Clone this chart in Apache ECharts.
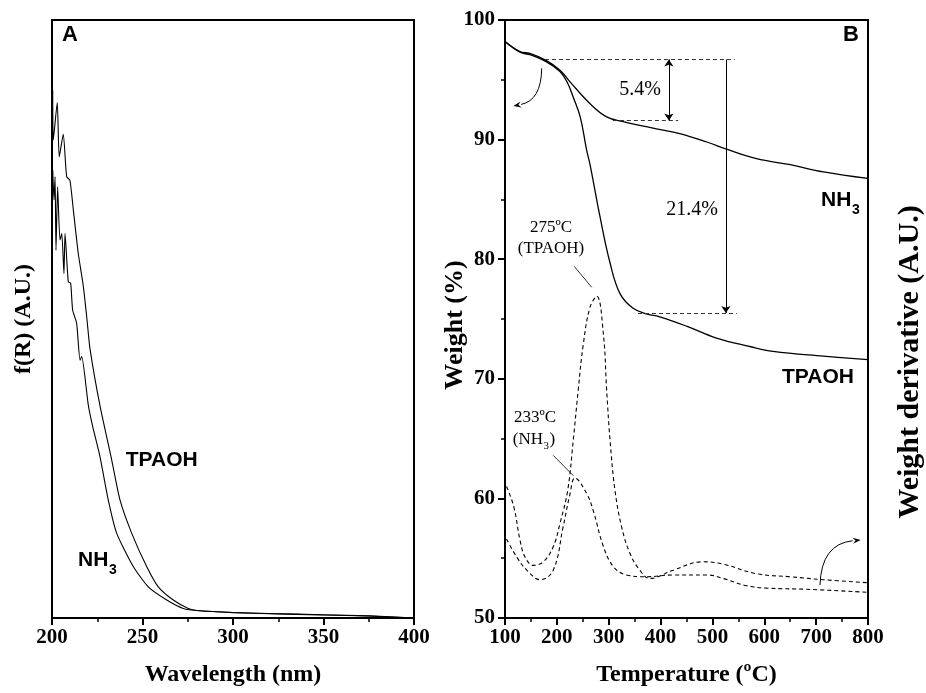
<!DOCTYPE html>
<html>
<head>
<meta charset="utf-8">
<script src="https://cdn.jsdelivr.net/npm/echarts@6/dist/echarts.min.js"></script>
<style>
html,body{margin:0;padding:0;background:#fff;}
#main{width:926px;height:693px;}
</style>
</head>
<body>
<div id="main"></div>
<script>
// ---------- Panel A : UV-vis (Kubelka-Munk) ----------
const uvWlTPAOH = [200.4,200.7,202.9,204.0,206.2,208.1,209.9,211.8,214.5,217.3,219.3,221.0,226.5,233.0,237.6,244.0,252.3,258.7,267.0,275.3,281.8,300,320,350,375,400];
const uvTPAOH   = [88.3,79.9,86.2,77.1,80.9,73.8,73.2,68.2,61.0,55.5,50.0,45.0,35.5,26.4,19.7,14.2,8.6,5.2,3.0,1.6,1.2,0.92,0.75,0.55,0.35,0];
const uvWlNH3   = [200.4,201.1,201.7,202.2,203.1,204.4,205.4,206.6,207.2,209.0,210.3,211.4,213.6,215.5,216.4,220.1,222.5,226.5,231.1,235.7,244.9,253.2,263.4,272.5,281.8,300,320,350,375,400];
const uvNH3     = [74.9,69.9,73.8,61.5,72.1,63.2,64.3,57.6,64.3,56.2,56.0,51.5,49.3,43.1,43.7,35.5,32.0,27.0,19.7,14.2,8.6,5.2,3.0,1.6,1.2,0.9,0.72,0.5,0.33,0];
const wlTicks = [200,250,300,350,400];

// ---------- Panel B : TGA / DTG ----------
const tgaTempNH3 = [100,129,148,180,206,225,264,296,328,392,437,489,527,585,650,714,800];
const tgaNH3     = [98.2,97.35,97.2,96.6,95.8,94.85,93.0,91.9,91.5,90.9,90.5,89.8,89.2,88.4,87.9,87.3,86.75];
const tgaTempTPAOH = [100,129,148,180,206,220,232,245,257.5,264,283,302.5,322,347,375,397,450,508,572,617,714,800];
const tgaTPAOH     = [98.2,97.3,97.1,96.5,95.7,94.8,93.5,91.9,89.1,87.9,83.6,79.7,77.1,75.9,75.4,75.2,74.4,73.4,72.7,72.3,71.9,71.6];
const dtgTempTPAOH = [103,117,129,138.6,154.6,174,193,206,221,231.7,241.3,251,264,277,289.6,296,302.5,312,325,341,360,379.6,392,424.5,482,521,585,650,714,800];
const dtgTPAOH     = [61.0,59.3,56.5,55.1,54.4,54.7,55.96,57.9,60.7,64.9,69.1,72.9,76.0,76.9,73.8,69.1,64.9,60.7,57.6,55.4,54.0,53.3,53.4,54.0,54.7,54.5,53.7,53.45,53.2,52.95];
const dtgTempNH3 = [103,122.6,142,167.5,193,212,225,235,257.5,270,289.6,309,334.6,373,424.5,489,521,566,604.6,682,800];
const dtgNH3     = [56.6,55.1,54.0,53.2,54.0,57.6,60.3,61.7,60.4,59.0,56.0,54.3,53.6,53.45,53.6,53.6,53.3,52.7,52.5,52.4,52.15];
const tempTicks = [100,200,300,400,500,600,700,800];
const weightTicks = [50,60,70,80,90,100];

// annotation reference levels
const lossStart = 96.7, lossNH3End = 91.6, lossTPAOHEnd = 75.5;
const lossNH3Text = '5.4%', lossTPAOHText = '21.4%';
// curved arrows: [start, control, end] in (T, W) data units
const arrowToLeftAxis  = [[170.8, 95.96], [170, 93.3], [116, 92.8]];
const arrowToRightAxis = [[707.4, 52.76], [710, 56.2], [785.9, 56.52]];

const zip = (xs, ys) => xs.map((x, i) => [x, ys[i]]);

const serif = "'Liberation Serif','Times New Roman',serif";
const sans = "'Liberation Sans',Arial,sans-serif";
const black = '#000';

const chart = echarts.init(document.getElementById('main'), null, {renderer: 'canvas'});

const tickLabel = {color: black, fontFamily: serif, fontWeight: 'bold', fontSize: 21};
const nameStyle = {color: black, fontFamily: serif, fontWeight: 'bold', fontSize: 24};

const option = {
  animation: false,
  backgroundColor: '#fff',
  grid: [
    {left: 52, top: 20, width: 362, height: 598, show: true, borderColor: black, borderWidth: 2, backgroundColor: 'transparent'},
    {left: 505, top: 20, width: 363, height: 598, show: true, borderColor: black, borderWidth: 2, backgroundColor: 'transparent'}
  ],
  xAxis: [
    {gridIndex: 0, type: 'value', min: 200, max: 400, interval: 50,
     axisLine: {show: true, lineStyle: {color: black, width: 2}},
     axisTick: {show: true, inside: false, length: 7, lineStyle: {color: black, width: 2}},
     minorTick: {show: true, splitNumber: 2, length: 4, lineStyle: {color: black, width: 1.5}},
     splitLine: {show: false},
     axisLabel: Object.assign({margin: 9, formatter: v => wlTicks.includes(v) ? String(v) : ''}, tickLabel),
     name: 'Wavelength (nm)', nameLocation: 'middle', nameGap: 45, nameTextStyle: nameStyle},
    {gridIndex: 1, type: 'value', min: 100, max: 800, interval: 100,
     axisLine: {show: true, lineStyle: {color: black, width: 2}},
     axisTick: {show: true, inside: false, length: 7, lineStyle: {color: black, width: 2}},
     minorTick: {show: true, splitNumber: 2, length: 4, lineStyle: {color: black, width: 1.5}},
     splitLine: {show: false},
     axisLabel: Object.assign({margin: 9, formatter: v => tempTicks.includes(v) ? String(v) : ''}, tickLabel),
     name: 'Temperature (ºC)', nameLocation: 'middle', nameGap: 45, nameTextStyle: nameStyle}
  ],
  yAxis: [
    {gridIndex: 0, type: 'value', min: 0, max: 100,
     axisLine: {show: true, lineStyle: {color: black, width: 2}},
     axisTick: {show: false}, axisLabel: {show: false}, splitLine: {show: false},
     name: 'f(R) (A.U.)', nameLocation: 'middle', nameGap: 16, nameRotate: 90, nameTextStyle: nameStyle},
    {gridIndex: 1, type: 'value', min: 50, max: 100, interval: 10,
     axisLine: {show: true, lineStyle: {color: black, width: 2}},
     axisTick: {show: true, inside: false, length: 7, lineStyle: {color: black, width: 2}},
     minorTick: {show: true, splitNumber: 2, length: 4, lineStyle: {color: black, width: 1.5}},
     splitLine: {show: false},
     axisLabel: Object.assign({margin: 10, formatter: v => weightTicks.includes(v) ? String(v) : ''}, tickLabel)},
    {gridIndex: 1, type: 'value', min: 50, max: 100, position: 'right',
     axisLine: {show: true, lineStyle: {color: black, width: 2}},
     axisTick: {show: false}, axisLabel: {show: false}, splitLine: {show: false}}
  ],
  series: [
    {name: 'TPAOH UV', type: 'line', xAxisIndex: 0, yAxisIndex: 0, data: zip(uvWlTPAOH, uvTPAOH),
     showSymbol: false, smooth: 0.2, lineStyle: {color: black, width: 1.1}, silent: true},
    {name: 'NH3 UV', type: 'line', xAxisIndex: 0, yAxisIndex: 0, data: zip(uvWlNH3, uvNH3),
     showSymbol: false, smooth: 0.2, lineStyle: {color: black, width: 1.1}, silent: true},
    {name: 'NH3 TGA', type: 'line', xAxisIndex: 1, yAxisIndex: 1, data: zip(tgaTempNH3, tgaNH3),
     showSymbol: false, smooth: 0.4, lineStyle: {color: black, width: 1.3}, silent: true,
     markLine: {
       silent: true, animation: false, symbolSize: 7, label: {show: false},
       lineStyle: {color: '#333', width: 1, type: [4, 3]},
       data: [
         [{coord: [177, lossStart], symbol: 'none'}, {coord: [543, lossStart], symbol: 'none'}],
         [{coord: [308, lossNH3End], symbol: 'none'}, {coord: [434, lossNH3End], symbol: 'none'}],
         [{coord: [356.5, lossTPAOHEnd], symbol: 'none'}, {coord: [547, lossTPAOHEnd], symbol: 'none'}],
         [{coord: [416, lossStart], symbol: 'arrow', lineStyle: {type: 'solid', color: black}},
          {coord: [416, lossNH3End], symbol: 'arrow'}],
         [{coord: [526, lossStart], symbol: 'none', lineStyle: {type: 'solid', color: black}},
          {coord: [526, lossTPAOHEnd], symbol: 'arrow'}],
         [{coord: [233.6, 79.4], symbol: 'none', lineStyle: {type: 'solid', color: black, width: 0.8}},
          {coord: [267.2, 77.65], symbol: 'none'}],
         [{coord: [193, 63.6], symbol: 'none', lineStyle: {type: 'solid', color: black, width: 0.8}},
          {coord: [231.7, 61.9], symbol: 'none'}]
       ]
     }},
    {name: 'TPAOH TGA', type: 'line', xAxisIndex: 1, yAxisIndex: 1, data: zip(tgaTempTPAOH, tgaTPAOH),
     showSymbol: false, smooth: 0.4, lineStyle: {color: black, width: 1.3}, silent: true},
    {name: 'TPAOH DTG', type: 'line', xAxisIndex: 1, yAxisIndex: 2, data: zip(dtgTempTPAOH, dtgTPAOH),
     showSymbol: false, smooth: 0.4, lineStyle: {color: black, width: 1.1, type: [4, 3]}, silent: true},
    {name: 'NH3 DTG', type: 'line', xAxisIndex: 1, yAxisIndex: 2, data: zip(dtgTempNH3, dtgNH3),
     showSymbol: false, smooth: 0.4, lineStyle: {color: black, width: 1.1, type: [4, 3]}, silent: true}
  ],
  graphic: [
    {type: 'text', left: 62, top: 24, style: {text: 'A', font: `bold 22px ${sans}`, fill: black}},
    {type: 'text', left: 843, top: 24, style: {text: 'B', font: `bold 22px ${sans}`, fill: black}},
    {type: 'text', x: 161.7, y: 460, style: {text: 'TPAOH', font: `bold 21px ${sans}`, fill: black, textAlign: 'center', textVerticalAlign: 'middle'}},
    {type: 'text', x: 78, y: 560, style: {text: 'NH', font: `bold 21px ${sans}`, fill: black, textAlign: 'left', textVerticalAlign: 'middle'}},
    {type: 'text', x: 109, y: 570, style: {text: '3', font: `bold 14px ${sans}`, fill: black, textAlign: 'left', textVerticalAlign: 'middle'}},
    {type: 'text', x: 821, y: 200, style: {text: 'NH', font: `bold 21px ${sans}`, fill: black, textAlign: 'left', textVerticalAlign: 'middle'}},
    {type: 'text', x: 852, y: 210, style: {text: '3', font: `bold 14px ${sans}`, fill: black, textAlign: 'left', textVerticalAlign: 'middle'}},
    {type: 'text', x: 818, y: 377, style: {text: 'TPAOH', font: `bold 21px ${sans}`, fill: black, textAlign: 'center', textVerticalAlign: 'middle'}},
    {type: 'text', x: 640, y: 90, style: {text: lossNH3Text, font: `20px ${serif}`, fill: black, textAlign: 'center', textVerticalAlign: 'middle'}},
    {type: 'text', x: 692, y: 210, style: {text: lossTPAOHText, font: `20px ${serif}`, fill: black, textAlign: 'center', textVerticalAlign: 'middle'}},
    {type: 'text', x: 551, y: 228, style: {text: '275ºC', font: `17px ${serif}`, fill: black, textAlign: 'center', textVerticalAlign: 'middle'}},
    {type: 'text', x: 551, y: 249, style: {text: '(TPAOH)', font: `17px ${serif}`, fill: black, textAlign: 'center', textVerticalAlign: 'middle'}},
    {type: 'text', x: 535, y: 418, style: {text: '233ºC', font: `17px ${serif}`, fill: black, textAlign: 'center', textVerticalAlign: 'middle'}},
    {type: 'text', x: 543, y: 440, style: {text: '(NH', font: `17px ${serif}`, fill: black, textAlign: 'right', textVerticalAlign: 'middle'}},
    {type: 'text', x: 543.5, y: 446, style: {text: '3', font: `11px ${serif}`, fill: black, textAlign: 'left', textVerticalAlign: 'middle'}},
    {type: 'text', x: 549.5, y: 440, style: {text: ')', font: `17px ${serif}`, fill: black, textAlign: 'left', textVerticalAlign: 'middle'}},
    {type: 'text', x: 455, y: 325, rotation: Math.PI / 2,
     style: {text: 'Weight (%)', font: `bold 26px ${serif}`, fill: black, textAlign: 'center', textVerticalAlign: 'middle'}},
    {type: 'text', x: 910, y: 362, rotation: Math.PI / 2,
     style: {text: 'Weight derivative (A.U.)', font: `bold 30px ${serif}`, fill: black, textAlign: 'center', textVerticalAlign: 'middle'}}
  ]
};
chart.setOption(option);

// curved arrows placed through the chart's own scales
function curvedArrow(pts) {
  const p = pts.map(d => chart.convertToPixel({gridIndex: 1}, d));
  const [s, c, e] = p;
  const ang = Math.atan2(e[1] - c[1], e[0] - c[0]);
  const L = 8, W = 3;
  const bx = e[0] - L * Math.cos(ang), by = e[1] - L * Math.sin(ang);
  const nx = -Math.sin(ang) * W, ny = Math.cos(ang) * W;
  return [
    {type: 'bezierCurve', silent: true,
     shape: {x1: s[0], y1: s[1], cpx1: c[0], cpy1: c[1], x2: bx, y2: by},
     style: {stroke: black, lineWidth: 1, fill: null}},
    {type: 'polygon', silent: true,
     shape: {points: [[e[0], e[1]], [bx + nx, by + ny], [bx + 0.35 * L * Math.cos(ang), by + 0.35 * L * Math.sin(ang)], [bx - nx, by - ny]]},
     style: {fill: black}}
  ];
}
const extra = [].concat(curvedArrow(arrowToLeftAxis), curvedArrow(arrowToRightAxis));
chart.setOption({graphic: option.graphic.concat(extra)});
</script>
</body>
</html>
